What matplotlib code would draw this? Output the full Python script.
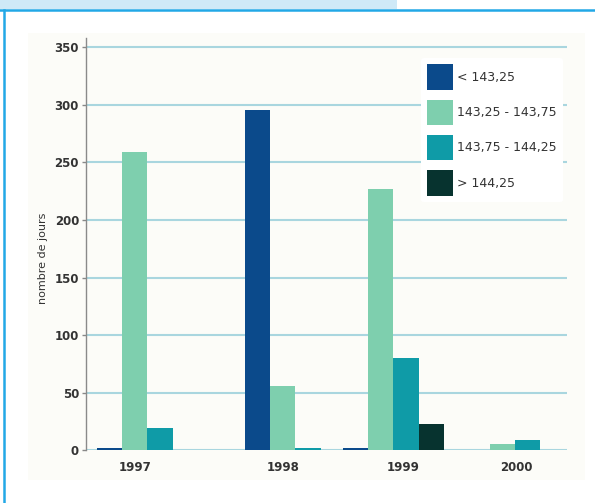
import numpy as np
import matplotlib
matplotlib.use('Agg')
import matplotlib.pyplot as plt
from matplotlib.patches import Rectangle, Patch
from matplotlib.lines import Line2D

# data
years = ['1997', '1998', '1999', '2000']
series_labels = ['< 143,25', '143,25 - 143,75', '143,75 - 144,25', '> 144,25']
below_14325 = [2, 296, 2, 0]
from_14325 = [259, 56, 227, 5]
from_14375 = [19, 2, 80, 9]
above_14425 = [0, 0, 23, 0]
yticks = [0, 50, 100, 150, 200, 250, 300, 350]

series = [below_14325, from_14325, from_14375, above_14425]
colors = ['#0b4a8b', '#7ecfae', '#0f9ba7', '#07332f']

# layout (in bar-width units), groups in the original are not evenly spaced
group_start = [0.44, 6.31, 10.2, 15.03]
label_pos = [1.94, 7.82, 12.58, 17.09]

fig = plt.figure(figsize=(5.95, 5.03), dpi=100)
W, H = 595.0, 503.0

# frame decorations
fig.patches.append(Rectangle((0, 1 - 9/H), 397/W, 9/H, transform=fig.transFigure,
                             facecolor='#cfe9f7', edgecolor='none', zorder=-5))
fig.add_artist(Line2D([0, 1], [1 - 10/H, 1 - 10/H], transform=fig.transFigure,
                      color='#22a8e6', lw=1.8))
fig.add_artist(Line2D([4/W, 4/W], [0, 1 - 10/H], transform=fig.transFigure,
                      color='#22a8e6', lw=1.8))
fig.patches.append(Rectangle((28/W, 1 - 480/H), 557/W, 447/H, transform=fig.transFigure,
                             facecolor='#fcfcf8', edgecolor='none', zorder=-5))

ax = fig.add_axes([86/W, 52.8/H, 481/W, 412/H])
ax.set_facecolor('none')
ax.set_zorder(2)

for k, vals in enumerate(series):
    for g, v in enumerate(vals):
        if v <= 0:
            continue
        ax.bar(group_start[g] + k, v, width=1.0, align='edge', color=colors[k],
               edgecolor='none', zorder=3)

ax.set_xlim(0, 481/25.2)
ax.set_ylim(0, 358)
ax.set_yticks(yticks)
ax.set_yticklabels([str(t) for t in yticks], fontsize=8.5, fontweight='bold', color='#333333')
ax.set_xticks(label_pos)
ax.set_xticklabels(years, fontsize=8.5, fontweight='bold', color='#333333')
ax.tick_params(axis='x', length=0, pad=8)
ax.tick_params(axis='y', length=3, width=1, color='#888888', pad=2)

for t in yticks:
    ax.axhline(t, color='#a9d6df', lw=1.5, zorder=1)

for s in ['top', 'right', 'bottom']:
    ax.spines[s].set_visible(False)
ax.spines['left'].set_color('#8a8a8a')
ax.spines['left'].set_linewidth(1.0)

fig.text(43/W, 1 - 258/H, 'nombre de jours', rotation=90, ha='center', va='center',
         fontsize=8, color='#333333')

handles = [Patch(facecolor=c, edgecolor='none') for c in colors]
leg = ax.legend(handles, series_labels, loc='upper left',
                bbox_to_anchor=(421/W, 1 - 58/H), bbox_transform=fig.transFigure,
                frameon=True, fontsize=9, handlelength=2.08, handleheight=2.75,
                handletextpad=0.3, labelspacing=0.8, borderpad=0.5,
                borderaxespad=0)
leg.get_frame().set_facecolor('white')
leg.get_frame().set_edgecolor('none')
leg.get_frame().set_alpha(1.0)
leg.set_zorder(5)
for t in leg.get_texts():
    t.set_color('#333333')

fig.savefig('out.png', dpi=100)
